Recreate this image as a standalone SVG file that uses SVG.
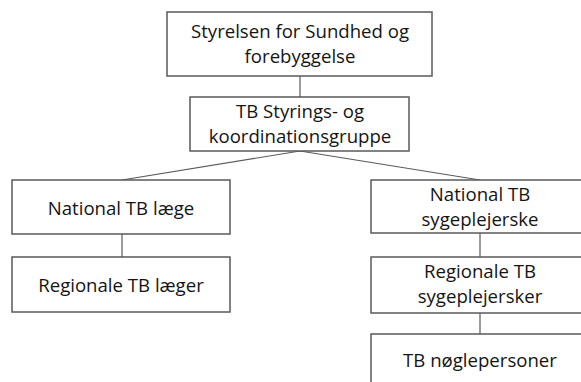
<svg xmlns="http://www.w3.org/2000/svg" width="581" height="382" viewBox="0 0 581 382">
<style>
.box{fill:#fff;stroke:#5a5a5a;stroke-width:1.5}
.t{font-family:"Open Sans","Liberation Sans",sans-serif;font-size:18.6px;fill:#141414;text-anchor:middle}
.c{fill:none;stroke:#5a5a5a;stroke-width:1.2}
</style>
<rect width="581" height="382" fill="#fff"/>
<g id="connectors">
<line class="c" x1="300" y1="76" x2="300" y2="97"/>
<polyline class="c" points="122,180 300,151 480,180"/>
<line class="c" x1="122" y1="234" x2="122" y2="257"/>
<line class="c" x1="480" y1="233" x2="480" y2="257"/>
<line class="c" x1="480" y1="313" x2="480" y2="334"/>
</g>
<g id="n1"><rect class="box" x="167" y="12" width="265" height="64"/>
<text class="t" x="300" y="38">Styrelsen for Sundhed og</text>
<text class="t" x="300" y="63">forebyggelse</text></g>
<g id="n2"><rect class="box" x="190" y="97" width="219" height="54"/>
<text class="t" x="300" y="118">TB Styrings- og</text>
<text class="t" x="300" y="143">koordinationsgruppe</text></g>
<g id="n3"><rect class="box" x="12" y="180" width="218" height="54"/>
<text class="t" x="121" y="215">National TB læge</text></g>
<g id="n4"><rect class="box" x="12" y="257" width="218" height="55"/>
<text class="t" x="121" y="292">Regionale TB læger</text></g>
<g id="n5"><rect class="box" x="371" y="180" width="220" height="53"/>
<text class="t" x="480" y="201">National TB</text>
<text class="t" x="480" y="226">sygeplejerske</text></g>
<g id="n6"><rect class="box" x="371" y="257" width="220" height="56"/>
<text class="t" x="480" y="278">Regionale TB</text>
<text class="t" x="480" y="303">sygeplejersker</text></g>
<g id="n7"><rect class="box" x="371" y="334" width="220" height="60"/>
<text class="t" x="480" y="367">TB nøglepersoner</text></g>
</svg>
